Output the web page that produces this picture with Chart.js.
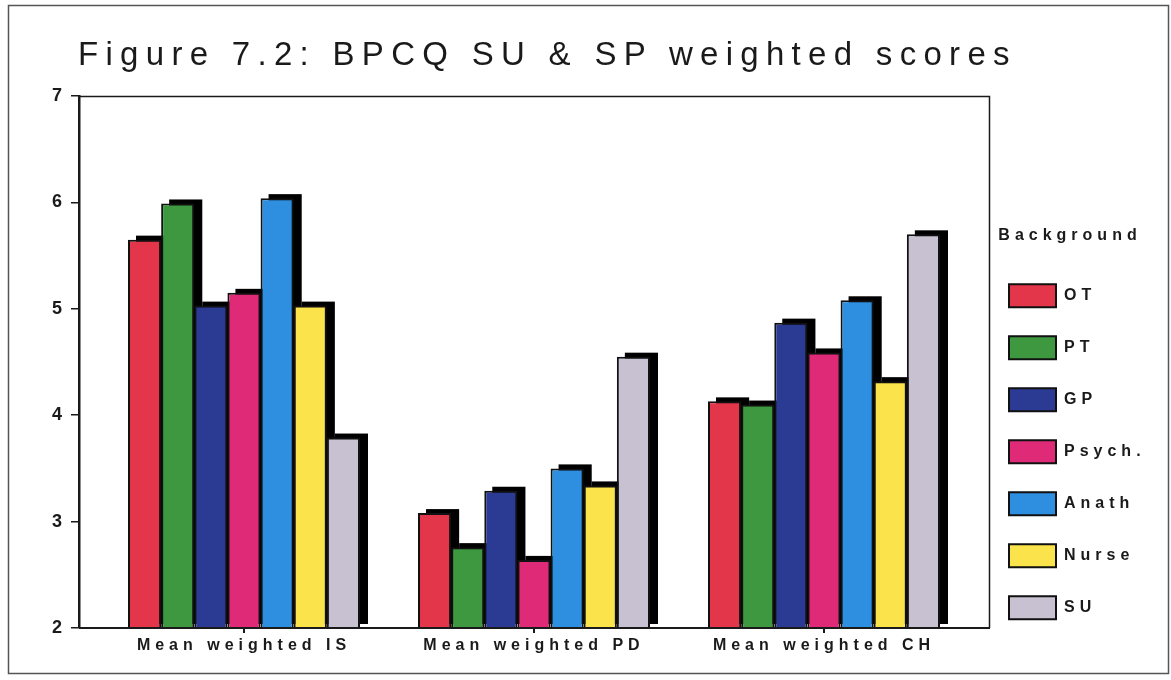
<!DOCTYPE html>
<html>
<head>
<meta charset="utf-8">
<script src="https://cdn.jsdelivr.net/npm/chart.js@4.4.1/dist/chart.umd.min.js"></script>
<style>
  html, body { margin: 0; padding: 0; background: #ffffff; }
  #wrap { position: relative; width: 1171px; height: 680px; }
  #chart { position: absolute; left: 0; top: 0; display: block; }
  #title {
    position: absolute; left: 78px; top: 37px;
    font: 33px/33px "Liberation Sans", Arial, sans-serif;
    letter-spacing: 7.3px; color: #1a1a1a; white-space: nowrap;
  }
</style>
</head>
<body>
<div id="wrap">
  <canvas id="chart" width="1171" height="680"></canvas>
  <div id="title">Figure 7.2: BPCQ SU &amp; SP weighted scores</div>
</div>
<script>
// Categories on the x axis
const categories = ['Mean weighted IS', 'Mean weighted PD', 'Mean weighted CH'];

// Professional background groups (legend order)
const backgrounds = ['OT', 'PT', 'GP', 'Psych.', 'Anath', 'Nurse', 'SU'];

// Mean weighted scores per background: [IS, PD, CH]
const otScores     = [5.65, 3.08, 4.13];
const ptScores     = [5.99, 2.76, 4.10];
const gpScores     = [5.03, 3.29, 4.87];
const psychScores  = [5.15, 2.64, 4.59];
const anathScores  = [6.04, 3.50, 5.08];
const nurseScores  = [5.03, 3.34, 4.32];
const suScores     = [3.79, 4.55, 5.70];

// Y axis tick values
const yTicks = [2, 3, 4, 5, 6, 7];

const seriesValues = [otScores, ptScores, gpScores, psychScores, anathScores, nurseScores, suScores];
const seriesColors = ['#e4364a', '#3e9840', '#2b3b93', '#df2a78', '#2e8ee0', '#fbe34c', '#c7c1d1'];

const FONT = '"Liberation Sans", Arial, sans-serif';
const INK = '#1a1a1a';

// Spaced-out lettering used throughout the chart text
const letterSpacingPlugin = {
  id: 'letterSpacing',
  beforeUpdate(chart) { chart.ctx.letterSpacing = '5px'; },
  beforeDraw(chart) {
    const ctx = chart.ctx;
    ctx.letterSpacing = '5px';
    // page background and outer figure frame
    ctx.save();
    ctx.fillStyle = '#ffffff';
    ctx.fillRect(0, 0, chart.width, chart.height);
    ctx.strokeStyle = '#555555';
    ctx.lineWidth = 1.5;
    ctx.strokeRect(8.5, 5.5, 1160, 668);
    ctx.restore();
  }
};

// Inner margins of the category axis and placement of the legend block
const layoutPlugin = {
  id: 'layoutTweaks',
  afterLayout(chart) {
    const x = chart.scales.x;
    x.left += 20;
    x.right -= 20;
    x.width = x.right - x.left;
    x.configure();

    const lg = chart.legend;
    lg.left = 980; lg.width = 180; lg.right = lg.left + lg.width;
    lg.top = 228; lg.bottom = 670; lg.height = lg.bottom - lg.top;
  }
};

// Solid black drop shadow behind each bar
const barShadowPlugin = {
  id: 'barShadow',
  beforeDatasetsDraw(chart) {
    const ctx = chart.ctx;
    const floor = chart.chartArea.bottom;
    ctx.save();
    ctx.fillStyle = '#000000';
    chart.data.datasets.forEach((ds, i) => {
      const meta = chart.getDatasetMeta(i);
      meta.data.forEach(bar => {
        const p = bar.getProps(['x', 'y', 'base', 'width'], true);
        const base = Math.min(p.base, floor);
        ctx.fillRect(p.x - p.width / 2 + 8, p.y - 4, p.width, base - p.y);
      });
    });
    ctx.restore();
  }
};

// Plot frame: top, right and baseline
const framePlugin = {
  id: 'plotFrame',
  afterDatasetsDraw(chart) {
    const { left, right, top, bottom } = chart.chartArea;
    const ctx = chart.ctx;
    ctx.save();
    ctx.strokeStyle = INK;
    ctx.lineWidth = 1.5;
    ctx.beginPath();
    ctx.moveTo(left, top + 0.5);
    ctx.lineTo(right + 0.5, top + 0.5);
    ctx.lineTo(right + 0.5, bottom);
    ctx.stroke();
    ctx.lineWidth = 2;
    ctx.beginPath();
    ctx.moveTo(left, bottom);
    ctx.lineTo(right + 1, bottom);
    ctx.stroke();
    ctx.restore();
  }
};

const datasets = backgrounds.map((name, i) => ({
  label: name,
  data: seriesValues[i],
  backgroundColor: seriesColors[i],
  borderColor: '#111111',
  borderWidth: 2,
  borderSkipped: false,
  barPercentage: 1.0,
  categoryPercentage: 0.8
}));

new Chart(document.getElementById('chart'), {
  type: 'bar',
  data: { labels: categories, datasets },
  plugins: [letterSpacingPlugin, layoutPlugin, barShadowPlugin, framePlugin],
  options: {
    responsive: false,
    animation: false,
    devicePixelRatio: 1,
    layout: { padding: { left: 0, top: 96, right: 62, bottom: 0 } },
    scales: {
      x: {
        offset: true,
        afterFit(scale) { scale.height = 52; },
        grid: {
          display: true, drawOnChartArea: false, drawTicks: true,
          tickLength: 5, offset: false, color: INK, lineWidth: 2
        },
        border: { display: false },
        ticks: { color: INK, padding: 3, font: { family: FONT, size: 16, weight: 'bold' } }
      },
      y: {
        min: 2, max: 7,
        afterFit(scale) { scale.width = 79; },
        afterBuildTicks(scale) { scale.ticks = yTicks.map(v => ({ value: v })); },
        grid: {
          display: true, drawOnChartArea: false, drawTicks: true,
          tickLength: 8, color: INK, lineWidth: 1.5
        },
        border: { display: true, color: INK, width: 2.5 },
        ticks: { color: INK, padding: 4, font: { family: FONT, size: 18, weight: 'bold' } }
      }
    },
    plugins: {
      tooltip: { enabled: false },
      title: { display: false },
      legend: {
        display: true,
        position: 'right',
        align: 'start',
        maxWidth: 120,
        title: {
          display: true,
          text: 'Background',
          position: 'center',
          color: INK,
          padding: { top: 0, bottom: 8 },
          font: { family: FONT, size: 16, weight: 'bold' }
        },
        labels: {
          boxWidth: 47,
          boxHeight: 23,
          padding: 29,
          color: INK,
          font: { family: FONT, size: 16, weight: 'bold' }
        }
      }
    }
  }
});
</script>
</body>
</html>
